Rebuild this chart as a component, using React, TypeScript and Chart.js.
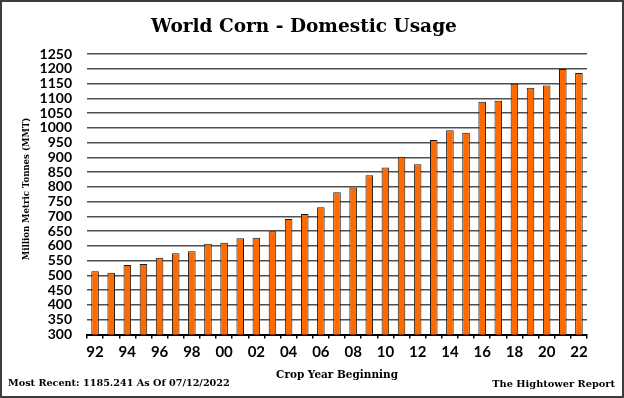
import React, { useEffect, useRef } from "react";
import { Chart, registerables } from "chart.js";

Chart.register(...registerables);

const years: string[] = [
  "92", "93", "94", "95", "96", "97", "98", "99", "00", "01", "02",
  "03", "04", "05", "06", "07", "08", "09", "10", "11", "12", "13",
  "14", "15", "16", "17", "18", "19", "20", "21", "22",
];

const usage: number[] = [
  514, 509, 535, 539, 560, 575, 582, 607, 611, 626, 628,
  650, 691, 708, 731, 782, 798, 839, 866, 902, 877, 959,
  992, 983, 1088, 1092, 1149, 1136, 1143, 1199, 1185.241,
];

const yMin = 300;
const yMax = 1250;
const yStep = 50;

const titleText = "World Corn - Domestic Usage";
const yTitleText = "Million Metric Tonnes (MMT)";
const xTitleText = "Crop Year Beginning";
const footLeft = "Most Recent: 1185.241 As Of 07/12/2022";
const footRight = "The Hightower Report";

const SERIF = "'DejaVu Serif', 'Liberation Serif', serif";
const SANS = "Lato, 'Open Sans', sans-serif";

function fitFont(ctx: CanvasRenderingContext2D, text: string, width: number) {
  ctx.font = `bold 20px ${SERIF}`;
  const m = ctx.measureText(text).width;
  const size = (20 * width) / m;
  ctx.font = `bold ${size}px ${SERIF}`;
}

const textPlugin = {
  id: "textPlugin",
  afterDraw(chart: any) {
    const ctx = chart.ctx as CanvasRenderingContext2D;
    const w = chart.width;
    const h = chart.height;
    ctx.save();
    ctx.fillStyle = "#000";
    ctx.textBaseline = "middle";
    // title
    ctx.textAlign = "center";
    fitFont(ctx, titleText, 306);
    ctx.fillText(titleText, 304, 27);
    // x title
    fitFont(ctx, xTitleText, 122);
    ctx.fillText(xTitleText, 337, 375);
    // footers
    ctx.textAlign = "left";
    fitFont(ctx, footLeft, 222);
    ctx.fillText(footLeft, 8, 383);
    ctx.textAlign = "right";
    fitFont(ctx, footRight, 123);
    ctx.fillText(footRight, 615, 384);
    // y title
    ctx.save();
    ctx.translate(27, 189);
    ctx.rotate(-Math.PI / 2);
    ctx.textAlign = "center";
    fitFont(ctx, yTitleText, 143);
    ctx.fillText(yTitleText, 0, 0);
    ctx.restore();
    // border
    ctx.strokeStyle = "#3c3c3c";
    ctx.lineWidth = 2;
    ctx.strokeRect(1, 1, w - 2, h - 2);
    ctx.restore();
  },
};

export default function App() {
  const canvasRef = useRef<HTMLCanvasElement | null>(null);

  useEffect(() => {
    document.body.style.margin = "0";
    const canvas = canvasRef.current;
    if (!canvas) return;
    const chart = new Chart(canvas, {
      type: "bar",
      data: {
        labels: years,
        datasets: [
          {
            data: usage,
            backgroundColor: "#FF6A00",
            borderColor: "#1a1a1a",
            borderWidth: 1,
            barPercentage: 0.47,
            categoryPercentage: 1,
          },
        ],
      },
      options: {
        animation: false,
        responsive: false,
        devicePixelRatio: 1,
        layout: { padding: { top: 54, right: 37, left: 0, bottom: 0 } },
        plugins: {
          legend: { display: false },
          title: { display: false },
          tooltip: { enabled: false },
        },
        scales: {
          x: {
            afterFit: (scale: any) => {
              scale.height = 63.5;
            },
            border: { display: true, color: "#000", width: 2 },
            grid: {
              display: true,
              drawOnChartArea: false,
              drawTicks: true,
              tickLength: 4,
              color: "#000",
              lineWidth: 1.5,
              offset: true,
            },
            ticks: {
              autoSkip: false,
              maxRotation: 0,
              padding: 5,
              color: "#000",
              font: { family: SANS, size: 15, weight: "bold" },
              callback: (_v: any, i: number) => (i % 2 === 0 ? years[i] : ""),
            },
          },
          y: {
            min: yMin,
            max: yMax,
            afterFit: (scale: any) => {
              scale.width = 87;
            },
            border: { display: false },
            grid: {
              color: "#505050",
              lineWidth: 1.5,
              drawTicks: false,
            },
            ticks: {
              stepSize: yStep,
              autoSkip: false,
              padding: 15,
              color: "#000",
              font: { family: SANS, size: 14, weight: "bold" },
              callback: (v: any) => String(v),
            },
          },
        },
      },
      plugins: [textPlugin],
    });
    return () => chart.destroy();
  }, []);

  return (
    <div style={{ width: 624, height: 398, background: "#fff" }}>
      <canvas ref={canvasRef} width={624} height={398} style={{ display: "block" }} />
    </div>
  );
}
